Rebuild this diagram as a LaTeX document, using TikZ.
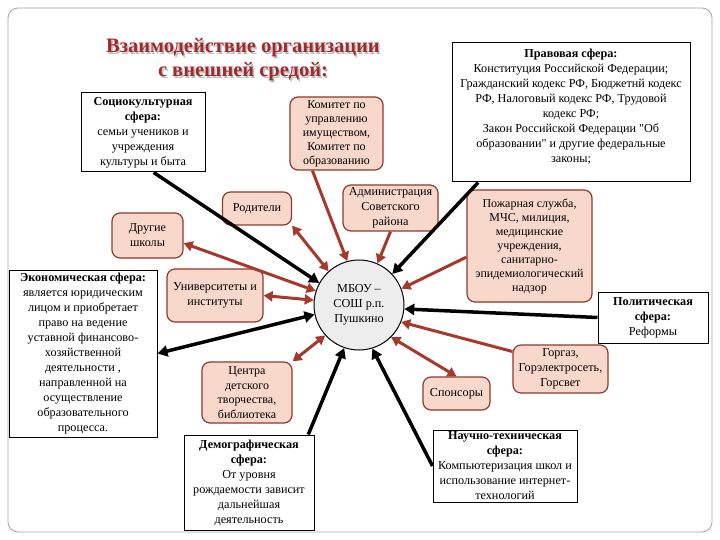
\documentclass[tikz,border=0pt]{standalone}
\usepackage{fontspec}
\setmainfont{Liberation Serif}[Ligatures=TeXOff]
\usetikzlibrary{arrows.meta}
\definecolor{pinkfill}{HTML}{F8D8CB}
\definecolor{brownline}{HTML}{8E3B2B}
\definecolor{redarrow}{HTML}{A53A2C}
\definecolor{titlered}{HTML}{9E2A2B}
\begin{document}
\begin{tikzpicture}[x=1pt,y=-1pt,
  txt/.style={font=\fontsize{12.2}{15}\selectfont, align=center},
  sphere/.style={txt, draw=black, line width=1pt, fill=white, inner sep=1pt},
  org/.style={txt, draw=brownline, line width=1.2pt, fill=pinkfill, rounded corners=8pt, inner sep=1pt},
  tipr/.tip={Triangle[length=9pt,width=10pt]},
  tipb/.tip={Triangle[length=10pt,width=11pt]},
  redone/.style={draw=redarrow, line width=3pt, -tipr},
  redtwo/.style={draw=redarrow, line width=3pt, tipr-tipr},
  blackone/.style={draw=black, line width=3.5pt, -tipb},
  blacktwo/.style={draw=black, line width=3.5pt, tipb-tipb},
  titlef/.style={font=\fontsize{20.5}{24}\selectfont\bfseries, align=center}
]
\useasboundingbox (0,0) rectangle (720,540);
\fill[white] (0,0) rectangle (720,540);
\draw[gray!70, line width=0.8pt, rounded corners=10pt] (8,8) rectangle (712,532);

% title
\node[titlef, text=black!25] (titleshadow) at (244.5,61.5) {Взаимодействие организации\\с внешней средой:};
\node[titlef, text=titlered] (title) at (243,60) {Взаимодействие организации\\с внешней средой:};

% spheres
\node[sphere, minimum width=124pt, minimum height=79pt] (socio) at (143,132.5)
  {\textbf{Социокультурная}\\\textbf{сфера:}\\семьи учеников и\\учреждения\\культуры и быта};
\node[sphere, minimum width=238pt, minimum height=139pt] (legal) at (571,112.5) {};
\node[txt, anchor=north] (legaltext) at (571,46)
  {\textbf{Правовая сфера:}\\Конституция Российской Федерации;\\Гражданский кодекс РФ, Бюджетнй кодекс\\РФ, Налоговый кодекс РФ, Трудовой\\кодекс РФ;\\Закон Российской Федерации "Об\\образовании" и другие федеральные\\законы;};
\node[sphere, minimum width=148pt, minimum height=167pt] (econ) at (83,353.5)
  {\textbf{Экономическая сфера:}\\является юридическим\\лицом и приобретает\\право на ведение\\уставной финансово-\\хозяйственной\\деятельности ,\\направленной на\\осуществление\\образовательного\\процесса.};
\node[sphere, minimum width=110pt, minimum height=51pt] (polit) at (653,317.5)
  {\textbf{Политическая}\\\textbf{сфера:}\\Реформы};
\node[sphere, minimum width=130pt, minimum height=95pt] (demo) at (249,482.5)
  {\textbf{Демографическая}\\\textbf{сфера:}\\От уровня\\рождаемости зависит\\дальнейшая\\деятельность};
\node[sphere, minimum width=144pt, minimum height=72pt] (sci) at (505,466)
  {\textbf{Научно-техническая}\\\textbf{сфера:}\\Компьютеризация школ и\\использование интернет-\\технологий};

% organisations
\node[org, minimum width=93pt, minimum height=73pt, font=\fontsize{12}{14}\selectfont] (comm) at (336.5,133.5)
  {Комитет по\\управлению\\имуществом,\\Комитет по\\образованию};
\node[org, minimum width=69pt, minimum height=33pt] (rod) at (257,208.5) {Родители};
\node[org, minimum width=95pt, minimum height=46pt] (adm) at (390.5,208) {Администрация\\Советского\\района};
\node[org, minimum width=71pt, minimum height=45pt] (dsch) at (147.5,235.5) {Другие\\школы};
\node[org, minimum width=96pt, minimum height=53pt] (univ) at (215,295.5) {Университеты и\\институты};
\node[org, minimum width=125pt, minimum height=112pt, font=\fontsize{12}{14}\selectfont] (pozh) at (529.5,246)
  {Пожарная служба,\\МЧС, милиция,\\медицинские\\учреждения,\\санитарно-\\эпидемиологический\\надзор};
\node[org, minimum width=95pt, minimum height=48pt] (gorg) at (560.5,369) {Горгаз,\\Горэлектросеть,\\Горсвет};
\node[org, minimum width=67pt, minimum height=33pt] (spon) at (456.5,393.5) {Спонсоры};
\node[org, minimum width=90pt, minimum height=61pt, font=\fontsize{12}{14.5}\selectfont] (centr) at (247,392.5) {Центра\\детского\\творчества,\\библиотека};

% centre
\node[txt, circle, draw=black, line width=1pt, fill=black!7, minimum size=90pt, inner sep=0pt] (school) at (359,305)
  {МБОУ –\\СОШ р.п.\\Пушкино};

% black arrows
\draw[blackone] (socio.-75) -- (school.151);
\draw[blackone] (legal.217) -- (school.43);
\draw[blacktwo] (econ.east) -- (school.192);
\draw[blackone] (polit.west) -- (school.355);
\draw[blackone] (demo.39) -- (school.251);
\draw[blackone] (sci.west) -- (school.287);

% red arrows
\draw[redone] (comm.237) -- (school.105);
\draw[redtwo] (rod.south east) -- (school.132);
\draw[redone] (adm.south) -- (school.66);
\draw[redtwo] (dsch.-12) -- (school.162);
\draw[redtwo] (univ.east) -- (school.174);
\draw[redone] (pozh.190) -- (school.21);
\draw[redtwo] (centr.north east) -- (school.222);
\draw[redtwo] (spon.north) -- (school.315);
\draw[redone] (gorg.160) -- (school.338);
\end{tikzpicture}
\end{document}
